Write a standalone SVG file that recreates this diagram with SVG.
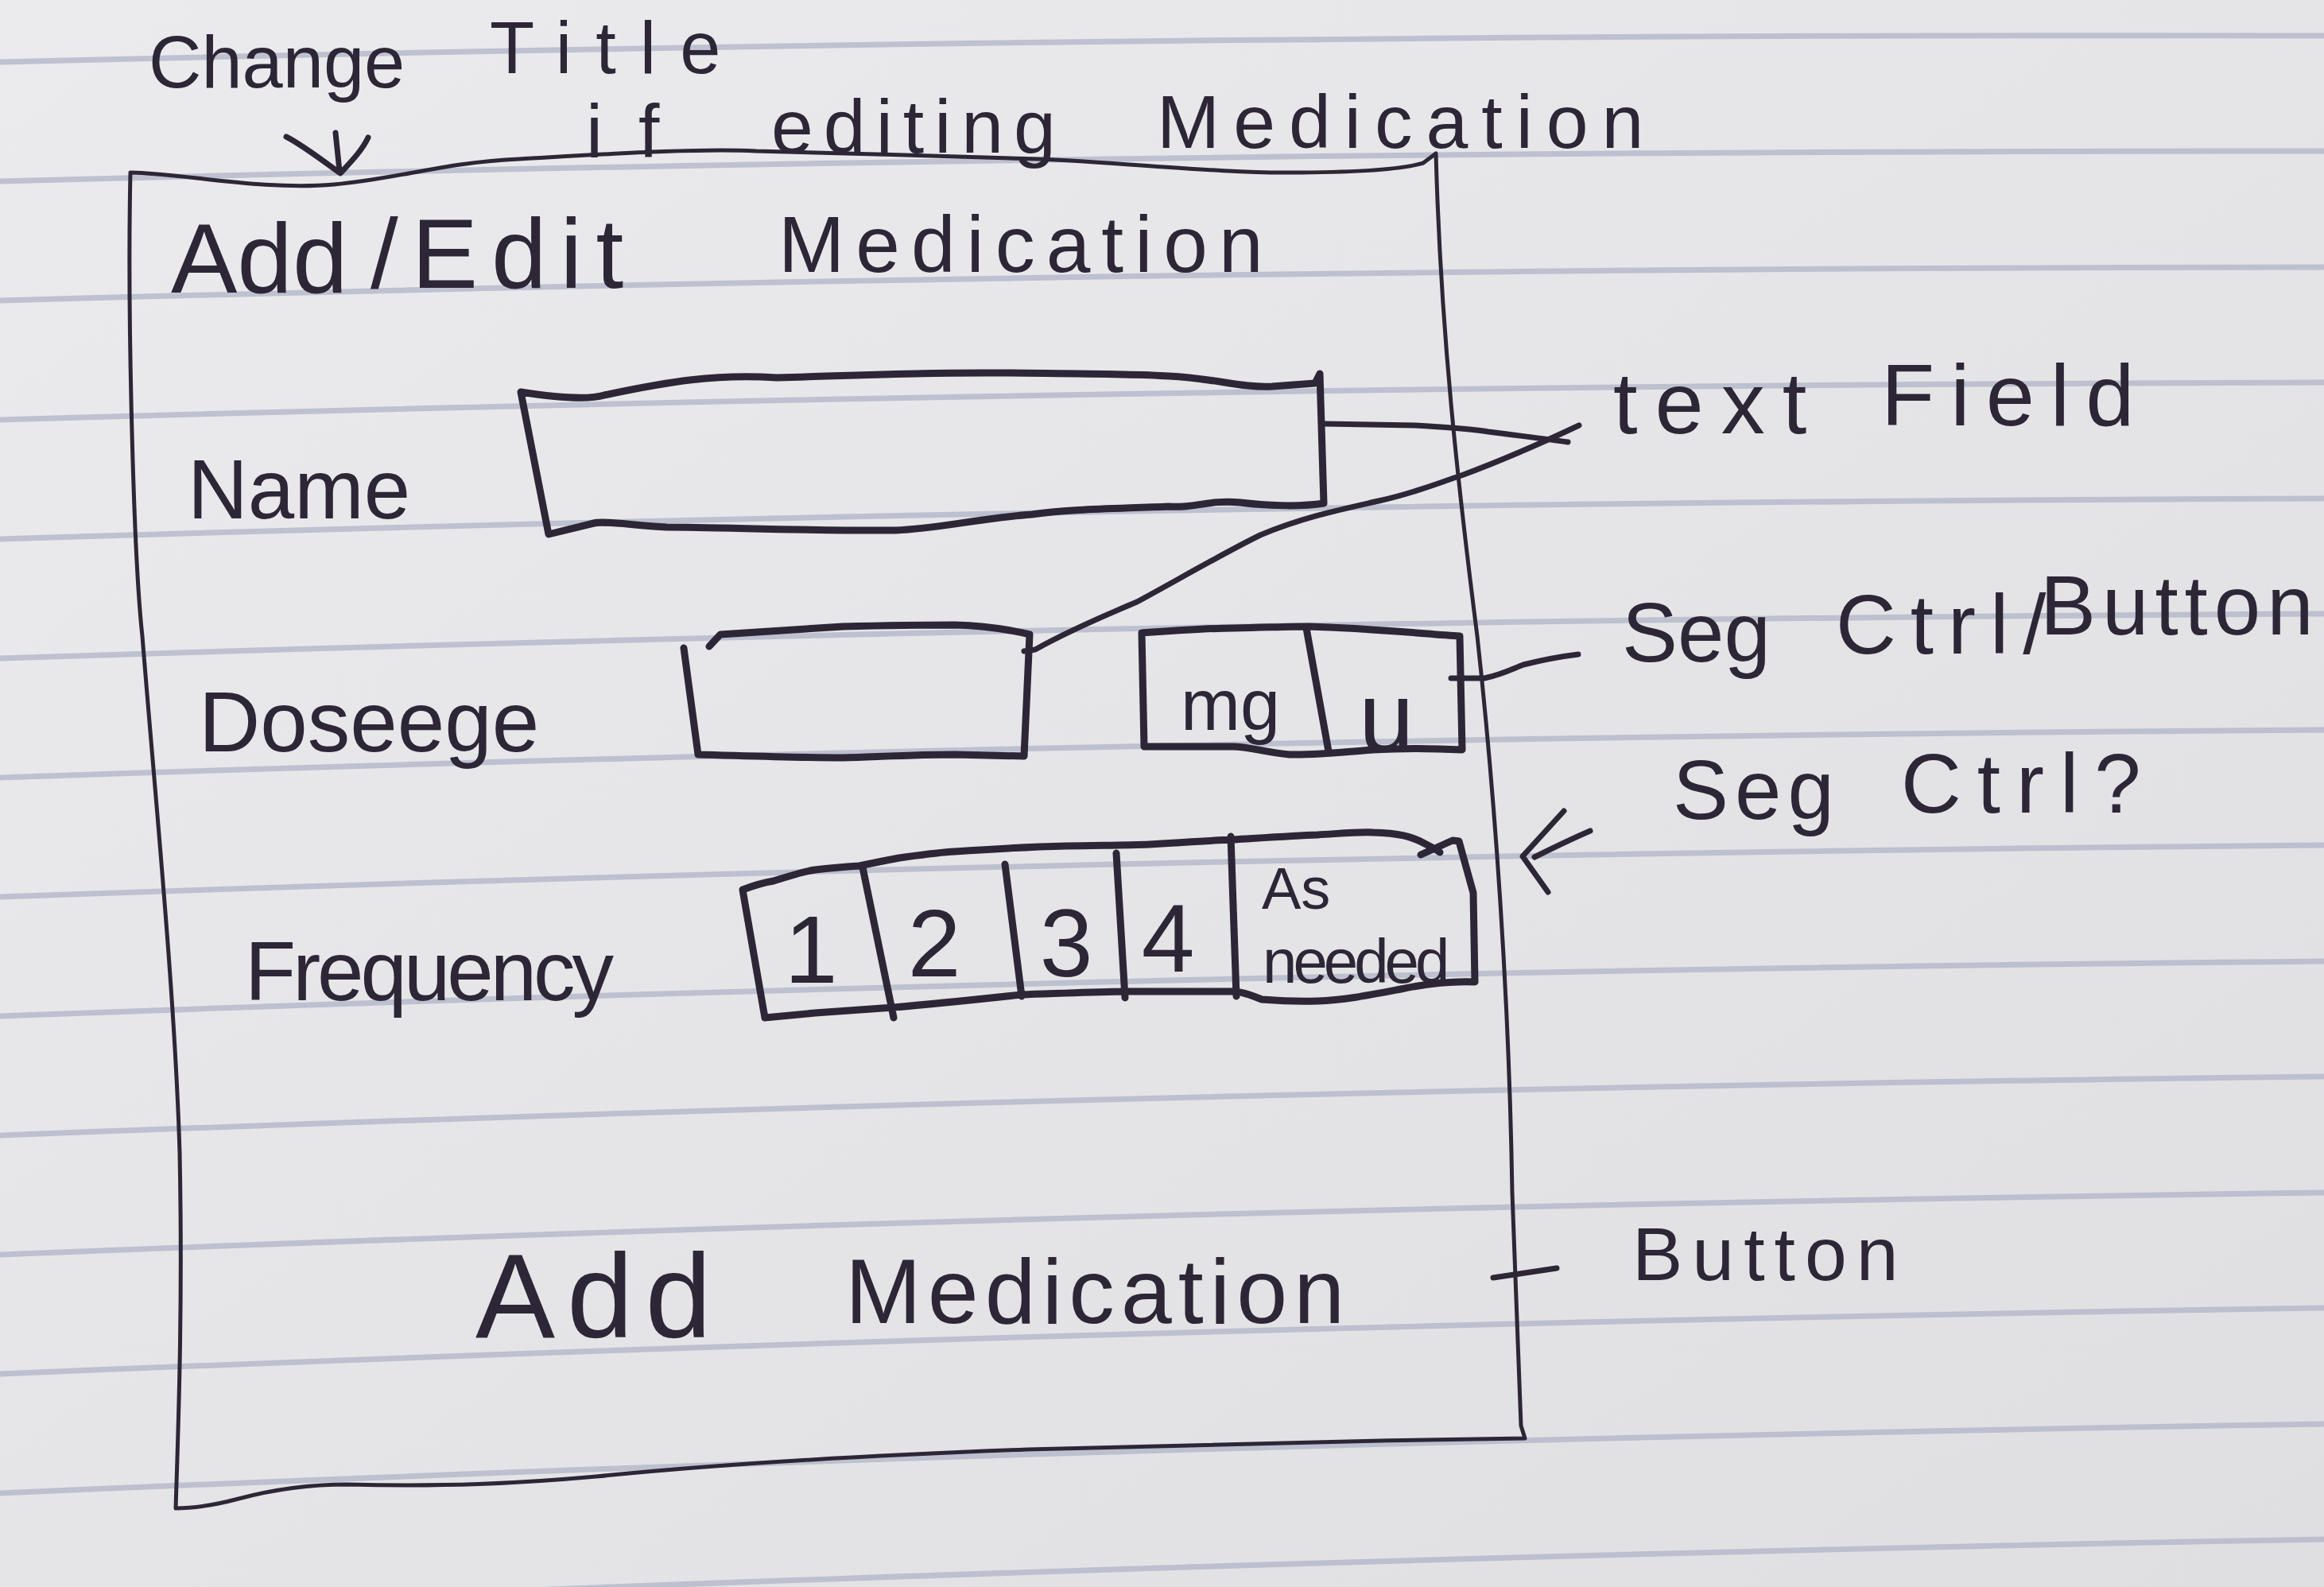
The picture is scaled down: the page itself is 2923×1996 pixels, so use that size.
<svg xmlns="http://www.w3.org/2000/svg" width="2923" height="1996" viewBox="0 0 2923 1996">
<defs>
<linearGradient id="paper" x1="0" y1="0" x2="1" y2="1">
<stop offset="0" stop-color="#ebebed"/>
<stop offset="1" stop-color="#dfdfe1"/>
</linearGradient>
</defs>
<style>
.rule{fill:none;stroke:#b2b7c9;stroke-width:7;stroke-linecap:round;opacity:.8}
.ink{fill:none;stroke:#2d2636;stroke-linecap:round;stroke-linejoin:round}
.thin{stroke-width:5}
.thick{stroke-width:9}
.mid{stroke-width:7}
.hand{font-family:"Liberation Sans","DejaVu Sans",sans-serif;fill:#2d2636}
</style>
<rect width="2923" height="1996" fill="url(#paper)"/>
<g id="ruled-lines">
<path class="rule" d="M0,78 Q1461,41.5 2923,45"/>
<path class="rule" d="M0,228 Q1461,189 2923,190"/>
<path class="rule" d="M0,378 Q1461,337 2923,336"/>
<path class="rule" d="M0,528 Q1461,485 2923,481"/>
<path class="rule" d="M0,678 Q1461,632 2923,627"/>
<path class="rule" d="M0,828 Q1461,780 2923,772"/>
<path class="rule" d="M0,978 Q1461,928 2923,918"/>
<path class="rule" d="M0,1128 Q1461,1076 2923,1063"/>
<path class="rule" d="M0,1278 Q1461,1223 2923,1209"/>
<path class="rule" d="M0,1428 Q1461,1371 2923,1354"/>
<path class="rule" d="M0,1578 Q1461,1519 2923,1500"/>
<path class="rule" d="M0,1728 Q1461,1667 2923,1645"/>
<path class="rule" d="M0,1878 Q1461,1814 2923,1791"/>
<path class="rule" d="M0,2028 Q1461,1962 2923,1936"/>
</g>

<g id="screen-frame">
<path class="ink thin" d="M164,217 C230,218 330,240 420,232 C500,225 560,204 653,200 C760,194 880,186 951,190 C1060,193 1200,196 1306,200 C1420,205 1540,218 1623,217 C1700,217 1760,214 1790,205 L1806,193 C1812,420 1835,620 1858,800 C1880,1000 1898,1250 1902,1500 L1913,1793 L1918,1809 C1700,1812 1450,1818 1293,1823 C1100,1830 900,1842 750,1857 C650,1866 560,1870 437,1867 C380,1867 330,1877 300,1885 C270,1893 245,1897 221,1897 C224,1800 230,1650 226,1450 C220,1250 195,1000 179,800 C168,700 160,400 164,217 Z"/>
</g>

<g id="title-note">
<text class="hand" font-size="92"><tspan x="187" y="110">Change</tspan> <tspan x="616" y="92" style="letter-spacing:30px">Title</tspan></text>
<text class="hand" font-size="95"><tspan x="737" y="198" style="letter-spacing:45px">if</tspan> <tspan x="970" y="192" style="letter-spacing:13px">editing</tspan> <tspan x="1455" y="186" style="letter-spacing:17px">Medication</tspan></text>
<path class="ink mid" d="M360,172 C380,182 410,205 428,218 C440,205 455,190 463,173 M422,167 L427,215"/>
</g>

<g id="screen-title">
<text class="hand"><tspan x="215" y="368" font-size="125">Add</tspan> <tspan x="466" y="362" font-size="125" style="letter-spacing:17px">/Edit</tspan> <tspan x="979" y="342" font-size="100" style="letter-spacing:14px">Medication</tspan></text>
</g>

<g id="name-row">
<text class="hand" x="236" y="652" font-size="105">Name</text>
<path class="ink thick" d="M655,493 C700,500 740,503 760,497 C840,480 900,470 977,475 C1080,472 1150,468 1264,469 C1350,470 1420,470 1470,473 C1530,476 1560,488 1600,486 L1654,482 L1660,470 L1665,633 C1640,637 1600,637 1560,632 C1520,628 1500,640 1470,637 C1400,640 1350,640 1298,647 C1230,652 1180,665 1126,667 C1030,668 900,663 839,663 C790,660 760,655 747,658 L690,672 Z"/>
</g>

<g id="dosage-row">
<text class="hand" x="250" y="945" font-size="107">Doseege</text>
<path class="ink thick" d="M860,815 L878,949 C950,951 1000,953 1060,953 C1120,951 1160,949 1201,949 L1288,951 L1295,798 C1270,792 1240,787 1201,786 C1150,786 1100,787 1060,788 C1000,792 940,796 906,798 L892,813"/>
</g>

<g id="unit-segmented">
<path class="ink thick" d="M1436,796 C1480,793 1520,790 1551,790 C1600,789 1620,788 1646,788 C1720,790 1790,797 1836,800 L1839,943 C1800,941 1760,941 1727,943 C1690,946 1650,950 1622,949 C1590,946 1570,939 1551,939 L1439,939 Z M1643,790 L1671,945"/>
<text class="hand" x="1485" y="918" font-size="90">mg</text>
<text class="hand" x="1709" y="945" font-size="125">u</text>
</g>

<g id="frequency-row">
<text class="hand" x="308" y="1258" font-size="105" style="letter-spacing:-4px">Frequency</text>
<path class="ink thick" d="M934,1119 C950,1113 960,1110 973,1108 C1000,1100 1010,1096 1025,1094 C1050,1091 1065,1090 1081,1089 C1100,1085 1115,1082 1131,1079 C1160,1075 1180,1072 1201,1071 C1260,1067 1300,1065 1341,1064 C1400,1063 1420,1063 1446,1062 C1500,1059 1520,1057 1551,1056 C1600,1053 1630,1051 1657,1050 C1690,1048 1710,1046 1727,1047 C1760,1048 1775,1052 1790,1060 C1800,1065 1806,1068 1811,1072 M1787,1075 L1827,1057 L1835,1058 L1853,1123 L1855,1235 C1830,1234 1800,1236 1762,1244 C1720,1252 1690,1258 1657,1259 C1620,1260 1600,1258 1587,1257 C1570,1250 1560,1247 1551,1247 L1411,1247 C1360,1248 1320,1250 1285,1251 C1220,1258 1160,1264 1124,1267 C1080,1270 1050,1272 1025,1274 L962,1280 L934,1119 M1085,1091 L1124,1280 M1264,1087 L1285,1253 M1404,1073 L1415,1255 M1548,1052 L1555,1253"/>
<text class="hand" font-size="120" text-anchor="middle"><tspan x="1020" y="1236">1</tspan><tspan x="1175" y="1228">2</tspan><tspan x="1341" y="1228">3</tspan><tspan x="1469" y="1222">4</tspan></text>
<text class="hand"><tspan x="1587" y="1143" font-size="74">As</tspan> <tspan x="1588" y="1236" font-size="78" style="letter-spacing:-5px">needed</tspan></text>
</g>

<g id="add-button">
<text class="hand"><tspan x="598" y="1682" font-size="150" style="letter-spacing:15px">Add</tspan> <tspan x="1063" y="1664" font-size="115" style="letter-spacing:8px">Medication</tspan></text>
</g>

<g id="annotations">
<text class="hand" font-size="110"><tspan x="2029" y="545" style="letter-spacing:22px">text</tspan> <tspan x="2366" y="535" style="letter-spacing:20px">Field</tspan></text>
<text class="hand" font-size="105"><tspan x="2040" y="832">Seg</tspan> <tspan x="2309" y="822" style="letter-spacing:18px">Ctrl/</tspan><tspan x="2566" y="798" style="letter-spacing:8px">Button</tspan></text>
<text class="hand" font-size="105"><tspan x="2104" y="1030" style="letter-spacing:8px">Seg</tspan> <tspan x="2391" y="1022" style="letter-spacing:20px">Ctrl?</tspan></text>
<text class="hand" x="2053" y="1610" font-size="95" style="letter-spacing:12px">Button</text>
</g>

<g id="connectors">
<path class="ink mid" d="M1665,533 L1780,535 C1830,538 1860,541 1872,543 C1910,548 1945,552 1972,556"/>
<path class="ink mid" d="M1288,819 L1302,817 C1350,790 1400,770 1430,757 C1480,730 1540,695 1585,673 C1640,650 1690,640 1734,630 C1780,620 1810,607 1838,598 C1900,575 1950,552 1986,535"/>
<path class="ink mid" d="M1825,853 L1867,853 C1890,848 1905,840 1916,836 C1940,830 1960,826 1985,823"/>
<path class="ink mid" d="M2000,1045 C1970,1058 1950,1068 1930,1078 M1967,1020 L1915,1077 L1947,1122"/>
<path class="ink mid" d="M1878,1607 L1958,1595"/>
</g>
</svg>
